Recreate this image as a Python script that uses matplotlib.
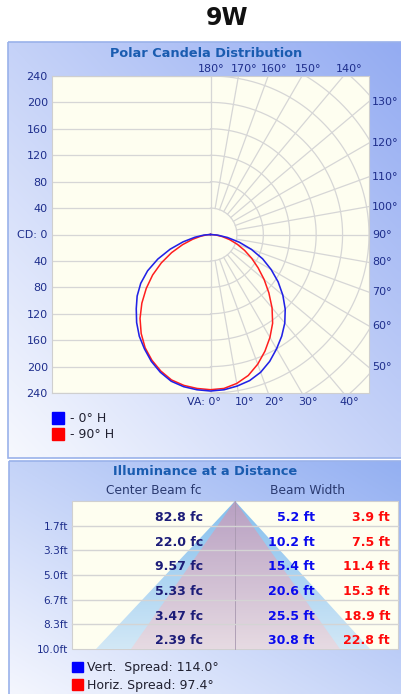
import numpy as np
import matplotlib
matplotlib.use("Agg")
import matplotlib.pyplot as plt
from matplotlib.patches import Polygon, Rectangle
from matplotlib.colors import to_rgb

# polar candela data, vertical angle 0..90 step 5
va_deg = np.arange(0, 95, 5)
cd_0h_right = [237, 236, 233, 229, 222, 212, 200, 188, 175, 160, 143, 125, 106, 87, 66, 45, 26, 11, 0]
cd_0h_left = [237, 236, 234, 230, 222, 212, 200, 188, 174, 159, 145, 129, 110, 88, 65, 43, 24, 10, 0]
cd_90h_right = [235, 234, 229, 221, 209, 195, 180, 164, 145, 125, 106, 88, 72, 57, 43, 30, 18, 8, 0]
cd_90h_left = [235, 234, 232, 228, 220, 210, 198, 183, 166, 147, 127, 107, 86, 65, 45, 28, 15, 6, 0]

cd_ticks = [240, 200, 160, 120, 80, 40, 0, 40, 80, 120, 160, 200, 240]
top_angles = [180, 170, 160, 150, 140]
right_angles = [130, 120, 110, 100, 90, 80, 70, 60, 50]
bottom_angles = [0, 10, 20, 30, 40]

# illuminance table
distances = ["1.7ft", "3.3ft", "5.0ft", "6.7ft", "8.3ft", "10.0ft"]
center_fc = [82.8, 22.0, 9.57, 5.33, 3.47, 2.39]
vert_width = [5.2, 10.2, 15.4, 20.6, 25.5, 30.8]
horiz_width = [3.9, 7.5, 11.4, 15.3, 18.9, 22.8]
vert_spread = 114.0
horiz_spread = 97.4

NAVY = "#1e2e8c"
TITLE_BLUE = "#1a5cb0"
GRID = "#d6d6d6"
IVORY = "#fefef0"

W, H = 401, 694
fig = plt.figure(figsize=(W / 100, H / 100), dpi=100)
plt.rcParams["font.family"] = ["DejaVu Sans"]

bg = fig.add_axes([0, 0, 1, 1])
bg.set_xlim(0, W)
bg.set_ylim(H, 0)
bg.axis("off")


def grad_rect(ax, x0, y0, x1, y1, c_tr, c_bl, zorder=0):
    n = 64
    u = np.linspace(0, 1, n)[None, :]
    v = np.linspace(0, 1, n)[:, None]
    t = (u + (1 - v)) / 2
    a, b = np.array(to_rgb(c_tr)), np.array(to_rgb(c_bl))
    img = b[None, None, :] * (1 - t[..., None]) + a[None, None, :] * t[..., None]
    ax.imshow(img, extent=(x0, x1, y1, y0), origin="upper", aspect="auto",
              zorder=zorder, interpolation="bilinear")


# panels
grad_rect(bg, 8, 42, 401, 458, "#94acf2", "#f6f8fe")
bg.add_patch(Rectangle((8, 42), 400, 416, fill=False, ec="#9ab2ea", lw=1.2, zorder=1))
grad_rect(bg, 9, 461, 401, 694, "#94b0f2", "#f4f6fe")
bg.add_patch(Rectangle((9, 461), 400, 240, fill=False, ec="#9ab2ea", lw=1.2, zorder=1))
bg.set_xlim(0, W)
bg.set_ylim(H, 0)

bg.text(227, 18, "9W", ha="center", va="center", fontsize=17, fontweight="bold", color="#111111")
bg.text(206, 53, "Polar Candela Distribution", ha="center", va="center",
        fontsize=9.3, fontweight="bold", color=TITLE_BLUE)

# polar plot
ax = fig.add_axes([52 / W, 1 - 393 / H, 317 / W, 317 / H])
ax.set_facecolor(IVORY)
ax.set_xlim(-240, 240)
ax.set_ylim(-240, 240)
for s in ax.spines.values():
    s.set_color("#cfcfcf")
    s.set_linewidth(0.8)
ax.set_xticks([])
ax.set_yticks(np.arange(240, -241, -40),
              [str(v) if v else "CD: 0" for v in cd_ticks])
ax.tick_params(axis="y", length=0, pad=3, labelsize=8, labelcolor=NAVY)

# left half grid
for yv in np.arange(-240, 241, 40):
    ax.plot([-240, 0], [yv, yv], color=GRID, lw=0.9, zorder=1)
ax.plot([0, 0], [-240, 240], color=GRID, lw=0.9, zorder=1)
# right half polar grid
th = np.radians(np.linspace(0, 180, 200))
for r in range(40, 361, 40):
    ax.plot(r * np.sin(th), -r * np.cos(th), color=GRID, lw=0.9, zorder=1)
for a in range(10, 180, 10):
    ar = np.radians(a)
    ax.plot([40 * np.sin(ar), 400 * np.sin(ar)], [-40 * np.cos(ar), -400 * np.cos(ar)],
            color=GRID, lw=0.9, zorder=1)

# curves
va_r = np.radians(va_deg)


def curve(left, right):
    left, right = np.asarray(left), np.asarray(right)
    x = np.concatenate([-(left * np.sin(va_r))[::-1], (right * np.sin(va_r))[1:]])
    y = np.concatenate([-(left * np.cos(va_r))[::-1], -(right * np.cos(va_r))[1:]])
    return x, y


ax.plot(*curve(cd_90h_left, cd_90h_right), color="#ff1e1e", lw=1.1, zorder=3)
ax.plot(*curve(cd_0h_left, cd_0h_right), color="#2222e6", lw=1.15, zorder=3)

px = 240 / 159  # cd per pixel
for a in top_angles:
    xv = 240 * np.tan(np.radians(180 - a))
    ax.text(xv + (1 if a == 180 else 6) * px, 240 + 7 * px, f"{a}°", ha="center", va="center",
            fontsize=8, color=NAVY, clip_on=False)
for a in right_angles:
    ar = np.radians(a)
    yv = -240 * np.cos(ar) / np.sin(ar)
    ax.text(240 + 3 * px, yv, f"{a}°", ha="left", va="center",
            fontsize=8, color=NAVY, clip_on=False)
for a in bottom_angles:
    xv = 240 * np.tan(np.radians(a))
    if a == 0:
        ax.text(xv + 10 * px, -240 - 9 * px, "VA: 0°", ha="right", va="center",
                fontsize=8, color=NAVY, clip_on=False)
    else:
        ax.text(xv + 6 * px, -240 - 9 * px, f"{a}°", ha="center", va="center",
                fontsize=8, color=NAVY, clip_on=False)

# polar legend
bg.add_patch(Rectangle((52, 412), 11.5, 12, color="#0000ff", zorder=2))
bg.add_patch(Rectangle((52, 428), 11.5, 12, color="#ff0000", zorder=2))
bg.text(70, 418.5, "- 0° H", ha="left", va="center", fontsize=9, color="#202030")
bg.text(70, 434.5, "- 90° H", ha="left", va="center", fontsize=9, color="#202030")

# illuminance panel
bg.text(205, 471, "Illuminance at a Distance", ha="center", va="center",
        fontsize=9.3, fontweight="bold", color=TITLE_BLUE)
bg.text(154, 490, "Center Beam fc", ha="center", va="center", fontsize=8.8, color="#2a3a70")
bg.text(307, 490, "Beam Width", ha="center", va="center", fontsize=8.8, color="#2a3a70")

t_top, t_bot, t_left, t_right = 501, 649, 72, 398
bg.add_patch(Rectangle((t_left, t_top), t_right - t_left, t_bot - t_top,
                       fc=IVORY, ec="#d0d0d0", lw=0.8, zorder=2))


def grad_tri(pts, c_top, c_bot, zorder):
    poly = Polygon(pts, closed=True, fc="none", ec="none", zorder=zorder)
    bg.add_patch(poly)
    ys = [p[1] for p in pts]
    xs = [p[0] for p in pts]
    n = 64
    v = np.linspace(0, 1, n)[:, None, None]
    a, b = np.array(to_rgb(c_top)), np.array(to_rgb(c_bot))
    img = np.repeat(a * (1 - v) + b * v, 2, axis=1)
    im = bg.imshow(img, extent=(min(xs), max(xs), max(ys), min(ys)), origin="upper",
                   aspect="auto", zorder=zorder, interpolation="bilinear")
    im.set_clip_path(poly)


apex_x = 235
grad_tri([(apex_x, t_top), (96, t_bot), (370, t_bot)], "#84bfee", "#d2e8f6", 3)
grad_tri([(apex_x, t_top), (131, t_bot), (340, t_bot)], "#b8a0c2", "#e6dae2", 4)
bg.plot([apex_x, apex_x], [t_top, t_bot], color="#a898b0", lw=0.6, zorder=5)

bg.set_xlim(0, W)
bg.set_ylim(H, 0)

row_h = (t_bot - t_top) / len(distances)
for i, d in enumerate(distances):
    y_sep = t_top + (i + 1) * row_h
    if i < len(distances) - 1:
        bg.plot([t_left, t_right], [y_sep, y_sep], color="#d4d4d4", lw=1.0, zorder=6)
    bg.text(68, y_sep + 1, d, ha="right", va="center", fontsize=7.6, color=NAVY)
    yc = t_top + i * row_h + row_h / 2 + 4
    bg.text(203, yc, f"{center_fc[i]:#.3g} fc", ha="right", va="center",
            fontsize=9, fontweight="bold", color="#1c1c78", zorder=7)
    bg.text(315, yc, f"{vert_width[i]:.1f} ft", ha="right", va="center",
            fontsize=9, fontweight="bold", color="#0a0aee", zorder=7)
    bg.text(390, yc, f"{horiz_width[i]:.1f} ft", ha="right", va="center",
            fontsize=9, fontweight="bold", color="#ff0a0a", zorder=7)

bg.add_patch(Rectangle((72, 662), 11, 10, color="#0000ff", zorder=2))
bg.add_patch(Rectangle((72, 679), 11, 11, color="#ff0000", zorder=2))
bg.text(87, 667, f"Vert.  Spread: {vert_spread:.1f}°", ha="left", va="center",
        fontsize=9, color="#202030")
bg.text(87, 685, f"Horiz. Spread: {horiz_spread:.1f}°", ha="left", va="center",
        fontsize=9, color="#202030")

fig.savefig("out.png", dpi=100)
